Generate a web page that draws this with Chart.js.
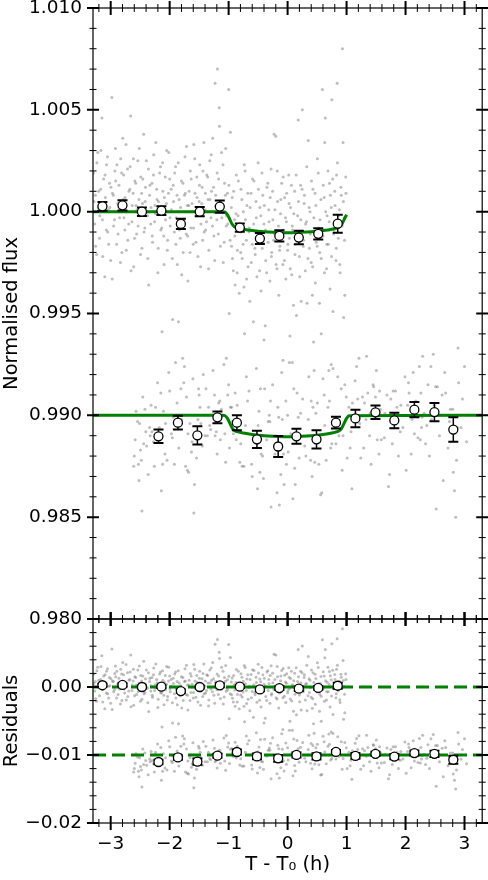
<!DOCTYPE html>
<html>
<head>
<meta charset="utf-8">
<title>Transit light curves</title>
<script src="https://cdn.jsdelivr.net/npm/chart.js@4.4.0/dist/chart.umd.min.js"></script>
<style>
body { margin: 0; background: #fff; }
#wrap { position: relative; width: 488px; height: 880px; }
#wrap canvas { position: absolute; left: 0; top: 0; }
</style>
</head>
<body>
<div id="wrap">
<canvas id="fluxChart" width="488" height="880"></canvas>
<canvas id="residChart" width="488" height="880"></canvas>
</div>
<script>
// axis ranges and ticks
var timeMin = -3.3, timeMax = 3.3;
var timeTicks = [-3, -2, -1, 0, 1, 2, 3];
var fluxTicks = [0.980, 0.985, 0.990, 0.995, 1.000, 1.005, 1.010];
var residTicks = [-0.02, -0.01, 0.00];
var residLevels = [0.00, -0.01];

// unbinned light curves [T - T0 (h), normalised flux]
var upperSeries = [
  [-3.29,1.0019],[-3.27,0.9994],[-3.26,1.0008],[-3.24,0.9979],[-3.22,1.0029],[-3.21,1.0002],[-3.19,0.9987],[-3.17,1.0011],[-3.15,1.0046],[-3.14,0.9996],
  [-3.12,1.0016],[-3.10,0.9968],[-3.09,1.0007],[-3.07,1.0023],[-3.05,0.9990],[-3.04,1.0001],[-3.02,1.0014],[-3.00,0.9976],[-2.98,1.0056],[-2.97,1.0009],
  [-2.95,0.9993],[-2.93,1.0020],[-2.92,1.0031],[-2.90,0.9984],[-2.88,1.0004],[-2.86,1.0013],[-2.85,0.9997],[-2.83,1.0026],[-2.81,0.9980],[-2.79,1.0006],
  [-2.78,1.0018],[-2.76,0.9991],[-2.74,1.0033],[-2.73,1.0000],[-2.71,0.9986],[-2.69,1.0010],[-2.67,1.0022],[-2.66,1.0047],[-2.64,0.9995],[-2.62,1.0009],
  [-2.61,0.9973],[-2.59,1.0015],[-2.57,1.0003],[-2.56,0.9989],[-2.54,1.0025],[-2.52,1.0006],[-2.51,0.9998],[-2.49,1.0017],[-2.47,0.9982],[-2.46,1.0004],
  [-2.44,1.0038],[-2.42,0.9992],[-2.41,1.0012],[-2.39,1.0000],[-2.37,0.9977],[-2.36,1.0021],[-2.34,1.0008],[-2.32,0.9994],[-2.30,1.0014],[-2.29,0.9985],
  [-2.27,1.0028],[-2.25,1.0003],[-2.24,0.9999],[-2.22,1.0011],[-2.20,0.9970],[-2.19,1.0005],[-2.17,1.0019],[-2.15,0.9991],[-2.14,1.0002],[-2.12,1.0024],
  [-2.10,0.9988],[-2.09,1.0007],[-2.07,0.9996],[-2.05,1.0030],[-2.04,0.9981],[-2.02,1.0009],[-2.00,1.0016],[-1.99,0.9993],[-1.97,1.0001],[-1.95,0.9947],
  [-1.94,1.0013],[-1.92,0.9990],[-1.90,1.0022],[-1.89,0.9997],[-1.87,0.9974],[-1.85,0.9946],[-1.84,1.0006],[-1.82,0.9987],[-1.80,1.0015],[-1.79,0.9995],
  [-1.77,0.9980],[-1.75,1.0008],[-1.74,1.0027],[-1.72,0.9989],[-1.70,1.0003],[-1.69,0.9966],[-1.67,1.0010],[-1.65,1.0020],[-1.64,0.9992],[-1.62,1.0004],
  [-1.60,0.9984],[-1.59,1.0033],[-1.57,1.0009],[-1.55,0.9998],[-1.54,1.0017],[-1.52,0.9978],[-1.50,1.0005],[-1.49,1.0023],[-1.47,0.9994],[-1.45,1.0012],
  [-1.44,0.9986],[-1.42,1.0034],[-1.40,1.0001],[-1.39,0.9991],[-1.37,1.0018],[-1.35,1.0006],[-1.34,0.9972],[-1.32,1.0025],[-1.30,0.9997],[-1.29,1.0010],
  [-1.27,1.0036],[-1.25,0.9988],[-1.23,1.0063],[-1.22,1.0008],[-1.20,0.9996],[-1.19,1.0070],[-1.17,1.0016],[-1.16,1.0051],[-1.14,0.9983],[-1.12,1.0029],
  [-1.11,1.0002],[-1.09,0.9975],[-1.07,1.0014],[-1.05,1.0031],[-1.04,0.9993],[-1.02,1.0009],[-1.00,1.0060],[-0.99,0.9950],[-0.97,1.0039],[-0.95,0.9983],
  [-0.94,1.0007],[-0.92,0.9971],[-0.90,0.9996],[-0.89,0.9964],[-0.87,1.0018],[-0.85,0.9981],[-0.84,0.9998],[-0.82,0.9960],[-0.80,0.9990],[-0.79,1.0011],
  [-0.77,0.9977],[-0.75,1.0000],[-0.74,0.9963],[-0.72,1.0020],[-0.70,0.9986],[-0.69,1.0003],[-0.67,0.9973],[-0.65,0.9992],[-0.64,0.9956],[-0.62,1.0009],
  [-0.60,0.9984],[-0.58,0.9946],[-0.57,1.0015],[-0.55,0.9979],[-0.53,0.9997],[-0.52,0.9968],[-0.50,1.0024],[-0.48,0.9988],[-0.47,1.0002],[-0.45,0.9961],
  [-0.43,0.9982],[-0.42,1.0008],[-0.40,0.9994],[-0.38,0.9944],[-0.37,0.9976],[-0.35,1.0012],[-0.33,0.9985],[-0.32,1.0001],[-0.30,0.9966],[-0.28,1.0021],
  [-0.27,0.9980],[-0.25,0.9996],[-0.23,1.0038],[-0.22,0.9989],[-0.20,1.0037],[-0.18,0.9972],[-0.17,1.0005],[-0.15,0.9959],[-0.13,0.9983],[-0.12,0.9999],
  [-0.10,1.0014],[-0.08,0.9974],[-0.07,0.9991],[-0.05,1.0007],[-0.03,0.9967],[-0.02,0.9995],[0.00,0.9981],[0.02,1.0018],[0.03,0.9987],[0.05,1.0002],
  [0.07,0.9969],[0.08,0.9993],[0.10,0.9954],[0.12,1.0010],[0.13,0.9984],[0.15,0.9949],[0.17,0.9998],[0.18,1.0045],[0.20,0.9978],[0.22,1.0013],
  [0.23,0.9956],[0.25,1.0050],[0.27,0.9986],[0.28,1.0004],[0.30,0.9971],[0.32,0.9995],[0.33,0.9955],[0.35,1.0035],[0.37,0.9982],[0.38,1.0000],
  [0.40,0.9975],[0.42,0.9959],[0.43,1.0011],[0.45,0.9990],[0.47,0.9965],[0.48,1.0003],[0.50,0.9983],[0.52,1.0019],[0.54,0.9955],[0.55,0.9996],
  [0.57,0.9977],[0.59,1.0060],[0.60,0.9988],[0.62,1.0007],[0.63,1.0034],[0.64,1.0046],[0.66,0.9972],[0.67,0.9998],[0.69,0.9984],[0.71,1.0014],
  [0.72,0.9962],[0.74,1.0002],[0.75,1.0055],[0.77,0.9951],[0.78,0.9989],[0.80,1.0010],[0.82,0.9976],[0.83,1.0018],[0.84,1.0063],[0.86,0.9987],
  [0.88,1.0001],[0.89,0.9970],[0.91,1.0008],[0.93,1.0080],[0.94,1.0034],[0.95,0.9948],[0.96,0.9997],[0.97,0.9959],[0.99,1.0009],
  // in-between exposures
  [-3.285,1.0005],[-3.255,0.9983],[-3.235,1.0024],[-3.205,1.0010],[-3.185,0.9998],[-3.165,1.0030],[-3.135,0.9978],[-3.115,1.0004],[-3.095,1.0018],[-3.075,0.9991],
  [-3.055,1.0027],[-3.035,0.9984],[-3.015,1.0002],[-2.995,1.0012],[-2.975,0.9967],[-2.955,1.0008],[-2.935,0.9996],[-2.915,1.0015],[-2.895,1.0023],[-2.875,0.9989],
  [-2.855,1.0000],[-2.835,0.9975],[-2.815,1.0019],[-2.795,1.0036],[-2.775,0.9997],[-2.755,1.0007],[-2.735,0.9981],[-2.715,1.0021],[-2.695,0.9994],[-2.675,1.0011],
  [-2.655,0.9971],[-2.635,1.0003],[-2.615,1.0026],[-2.595,0.9987],[-2.575,1.0014],[-2.555,1.0001],[-2.535,0.9993],[-2.515,1.0031],[-2.495,0.9979],[-2.475,1.0009],
  [-2.455,1.0016],[-2.435,0.9990],[-2.415,1.0005],[-2.395,1.0025],[-2.375,0.9998],[-2.355,0.9964],[-2.335,1.0013],[-2.315,1.0002],[-2.295,0.9988],[-2.275,1.0018],
  [-2.255,0.9995],[-2.235,1.0034],[-2.215,1.0006],[-2.195,0.9982],[-2.175,1.0000],[-2.155,1.0022],[-2.135,0.9992],[-2.115,1.0010],[-2.095,0.9974],[-2.075,1.0017],
  [-2.055,1.0004],[-2.035,0.9986],[-2.015,1.0029],[-1.995,0.9997],[-1.975,1.0011],[-1.955,0.9977],[-1.935,1.0005],[-1.915,1.0019],[-1.895,0.9984],[-1.875,1.0008],
  [-1.855,1.0024],[-1.835,0.9991],[-1.815,1.0002],[-1.795,0.9969],[-1.775,1.0014],[-1.755,0.9996],[-1.735,1.0009],[-1.715,1.0032],[-1.695,0.9988],[-1.675,1.0003],
  [-1.655,0.9980],[-1.635,1.0016],[-1.615,1.0000],[-1.595,0.9992],[-1.575,1.0026],[-1.555,0.9985],[-1.535,1.0007],[-1.515,0.9999],[-1.495,1.0013],[-1.475,0.9973],
  [-1.455,1.0004],[-1.435,1.0020],[-1.415,0.9990],[-1.395,1.0009],[-1.375,0.9995],[-1.355,1.0017],[-1.335,0.9981],[-1.315,1.0006],[-1.295,1.0028],[-1.275,0.9993],
  [-1.255,1.0012],[-1.235,0.9976],[-1.215,1.0003],[-1.195,1.0019],[-1.175,0.9989],[-1.155,1.0042],[-1.135,1.0005],[-1.115,0.9997],[-1.095,1.0023],[-1.075,0.9985],
  [-1.055,1.0008],[-1.035,0.9998],
  [-1.015,0.9994],[-0.995,1.0013],[-0.975,0.9986],[-0.955,1.0002],[-0.935,0.9977],[-0.915,1.0010],[-0.895,0.9988],[-0.875,0.9999],[-0.855,0.9970],[-0.835,1.0015],
  [-0.815,0.9992],[-0.795,0.9980],[-0.775,1.0006],[-0.755,0.9984],[-0.735,1.0023],[-0.715,0.9996],[-0.695,0.9967],[-0.675,1.0009],[-0.655,0.9990],[-0.635,1.0002],
  [-0.615,0.9975],[-0.595,1.0016],[-0.575,0.9994],[-0.555,0.9982],[-0.535,1.0005],[-0.515,0.9987],[-0.495,1.0011],[-0.475,0.9971],[-0.455,0.9998],[-0.435,1.0019],
  [-0.415,0.9985],[-0.395,1.0003],[-0.375,0.9991],[-0.355,0.9970],[-0.335,1.0014],[-0.315,0.9995],[-0.295,1.0007],[-0.275,0.9978],[-0.255,1.0010],[-0.235,0.9986],
  [-0.215,1.0001],[-0.195,0.9974],[-0.175,1.0020],[-0.155,0.9993],[-0.135,0.9981],[-0.115,1.0006],[-0.095,0.9988],[-0.075,1.0017],[-0.055,0.9976],[-0.035,0.9997],
  [-0.015,1.0009],[0.005,0.9984],[0.025,1.0004],[0.045,0.9972],[0.065,1.0013],[0.085,0.9991],[0.105,0.9999],[0.125,0.9979],[0.145,1.0018],[0.165,0.9987],
  [0.185,1.0005],[0.205,0.9968],[0.225,0.9996],[0.245,1.0011],[0.265,0.9983],[0.285,1.0008],[0.305,0.9994],[0.325,1.0022],[0.345,0.9977],[0.365,1.0002],
  [0.385,0.9989],[0.405,1.0015],[0.425,0.9973],[0.445,0.9997],[0.465,1.0009],[0.485,0.9985],[0.505,1.0026],[0.525,0.9992],[0.545,0.9980],[0.565,1.0006],
  [0.585,0.9988],[0.605,1.0013],[0.625,0.9970],[0.645,1.0000],[0.665,0.9984],[0.685,1.0020],[0.705,0.9995],[0.725,1.0008],[0.745,0.9978],[0.765,1.0016],
  [0.785,0.9991],[0.805,1.0003],[0.825,0.9982],[0.845,1.0024],[0.865,0.9998],[0.885,0.9974],[0.905,1.0012],[0.925,0.9993],[0.945,1.0005],[0.965,0.9986],[0.985,1.0017]
];
var lowerSeries = [
  [-2.61,0.9875],[-2.60,0.9880],[-2.57,0.9902],[-2.53,0.9876],[-2.52,0.9868],[-2.51,0.9896],[-2.48,0.9878],[-2.47,0.9853],[-2.44,0.9886],[-2.42,0.9903],
  [-2.39,0.9885],[-2.34,0.9894],[-2.33,0.9890],[-2.30,0.9892],[-2.26,0.9875],[-2.24,0.9904],[-2.15,0.9911],[-2.14,0.9863],[-2.13,0.9941],[-2.12,0.9876],
  [-2.08,0.9881],[-2.07,0.9896],[-2.00,0.9912],[-1.97,0.9891],[-1.94,0.9899],[-1.92,0.9876],[-1.90,0.9926],[-1.81,0.9913],[-1.78,0.9928],[-1.76,0.9916],
  [-1.75,0.9924],[-1.73,0.9875],[-1.70,0.9873],[-1.69,0.9891],[-1.68,0.9872],[-1.63,0.9882],[-1.62,0.9887],[-1.59,0.9852],[-1.58,0.9866],[-1.52,0.9898],
  [-1.51,0.9913],[-1.50,0.9910],[-1.47,0.9896],[-1.43,0.9920],[-1.40,0.9890],[-1.36,0.9890],[-1.34,0.9904],[-1.32,0.9895],[-1.24,0.9910],[-1.23,0.9890],
  [-1.21,0.9892],[-1.17,0.9906],[-1.15,0.9907],[-1.14,0.9888],[-1.08,0.9925],[-1.05,0.9877],[-1.04,0.9928],[-1.00,0.9915],[-0.97,0.9904],[-0.95,0.9904],
  [-0.92,0.9891],[-0.89,0.9911],[-0.87,0.9888],[-0.81,0.9877],[-0.77,0.9875],[-0.74,0.9875],[-0.73,0.9940],[-0.70,0.9919],[-0.68,0.9907],[-0.61,0.9876],
  [-0.60,0.9870],[-0.53,0.9923],[-0.51,0.9864],[-0.50,0.9895],[-0.47,0.9872],[-0.46,0.9913],[-0.45,0.9881],[-0.41,0.9869],[-0.40,0.9937],[-0.39,0.9913],
  [-0.33,0.9897],[-0.31,0.9900],[-0.30,0.9897],[-0.29,0.9907],[-0.28,0.9855],[-0.18,0.9862],[-0.15,0.9899],[-0.14,0.9856],[-0.10,0.9921],[-0.09,0.9898],
  [-0.08,0.9927],[-0.07,0.9881],[-0.06,0.9866],[-0.03,0.9907],[-0.02,0.9876],[0.00,0.9900],[0.01,0.9882],[0.03,0.9926],[0.04,0.9939],[0.08,0.9926],
  [0.09,0.9859],[0.12,0.9874],[0.13,0.9866],[0.16,0.9911],[0.18,0.9899],[0.22,0.9901],[0.29,0.9885],[0.31,0.9880],[0.35,0.9898],[0.36,0.9919],
  [0.39,0.9878],[0.40,0.9907],[0.43,0.9904],[0.44,0.9936],[0.45,0.9922],[0.46,0.9877],[0.48,0.9901],[0.53,0.9876],[0.56,0.9861],[0.57,0.9940],
  [0.58,0.9862],[0.60,0.9918],[0.62,0.9910],[0.63,0.9895],[0.70,0.9922],[0.71,0.9907],[0.73,0.9884],[0.74,0.9925],[0.75,0.9886],[0.77,0.9923],
  [0.82,0.9886],[0.85,0.9919],[0.87,0.9890],[0.91,0.9913],[0.94,0.9890],[0.97,0.9915],[1.01,0.9879],[1.04,0.9904],[1.06,0.9884],[1.09,0.9864],
  [1.10,0.9906],[1.17,0.9924],[1.19,0.9908],[1.21,0.9928],[1.24,0.9879],[1.27,0.9909],[1.29,0.9884],[1.33,0.9898],[1.34,0.9929],[1.36,0.9911],
  [1.39,0.9890],[1.40,0.9901],[1.45,0.9915],[1.46,0.9914],[1.49,0.9909],[1.52,0.9888],[1.55,0.9881],[1.56,0.9912],[1.59,0.9888],[1.64,0.9889],
  [1.65,0.9901],[1.71,0.9865],[1.73,0.9871],[1.75,0.9908],[1.79,0.9912],[1.83,0.9912],[1.88,0.9880],[1.91,0.9892],[1.92,0.9905],[1.99,0.9919],
  [2.01,0.9873],[2.05,0.9916],[2.06,0.9911],[2.11,0.9898],[2.13,0.9921],[2.15,0.9891],[2.21,0.9889],[2.25,0.9888],[2.26,0.9911],[2.27,0.9894],
  [2.28,0.9899],[2.29,0.9929],[2.34,0.9886],[2.36,0.9895],[2.38,0.9915],[2.43,0.9924],[2.44,0.9898],[2.47,0.9930],[2.51,0.9914],[2.52,0.9854],
  [2.54,0.9914],[2.62,0.9910],[2.64,0.9868],[2.68,0.9911],[2.72,0.9884],[2.76,0.9903],[2.80,0.9903],[2.81,0.9872],[2.83,0.9863],[2.85,0.9850],
  [2.88,0.9894],[2.89,0.9933],[2.90,0.9916],[2.94,0.9894],[3.00,0.9924],
  // in-between exposures
  [-2.585,0.9888],[-2.545,0.9897],[-2.495,0.9883],[-2.455,0.9909],[-2.405,0.9892],[-2.365,0.9871],[-2.315,0.9905],[-2.275,0.9887],[-2.205,0.9916],[-2.175,0.9894],
  [-2.105,0.9902],[-2.045,0.9878],[-2.015,0.9921],[-1.955,0.9889],[-1.875,0.9906],[-1.845,0.9884],[-1.795,0.9898],[-1.715,0.9909],[-1.655,0.9896],[-1.605,0.9918],
  [-1.545,0.9879],[-1.485,0.9904],[-1.445,0.9885],[-1.385,0.9913],[-1.305,0.9893],[-1.265,0.9922],[-1.195,0.9881],[-1.125,0.9903],[-1.065,0.9891],[-1.015,0.9910],
  [-0.985,0.9884],[-0.935,0.9897],[-0.855,0.9905],[-0.795,0.9886],[-0.715,0.9895],[-0.655,0.9912],[-0.565,0.9889],[-0.485,0.9902],[-0.425,0.9880],[-0.355,0.9888],
  [-0.255,0.9915],[-0.215,0.9881],[-0.165,0.9904],[-0.115,0.9871],[0.055,0.9891],[0.105,0.9913],[0.195,0.9879],[0.255,0.9908],[0.335,0.9890],[0.415,0.9870],
  [0.505,0.9906],[0.545,0.9887],[0.655,0.9878],[0.685,0.9904],[0.795,0.9894],[0.925,0.9873],[0.995,0.9909],[1.075,0.9892],[1.145,0.9917],[1.225,0.9896],
  [1.305,0.9906],[1.415,0.9876],[1.505,0.9922],[1.575,0.9903],[1.685,0.9910],[1.775,0.9886],[1.855,0.9904],[1.955,0.9894],[2.035,0.9905],[2.095,0.9881],
  [2.175,0.9907],[2.235,0.9924],[2.315,0.9901],[2.405,0.9880],[2.485,0.9905],[2.575,0.9890],[2.665,0.9921],[2.745,0.9897],[2.865,0.9878],[2.965,0.9908],[3.035,0.9887]
];

// binned points
var binTimeA = [-3.14, -2.80, -2.47, -2.14, -1.81, -1.49, -1.15, -0.81, -0.47, -0.14, 0.19, 0.52, 0.85];
var binFluxA = [1.00026, 1.00031, 1.00000, 1.00005, 0.99940, 1.00000, 1.00025, 0.99922, 0.99868, 0.99881, 0.99873, 0.99891, 0.99941];
var binErrA  = [0.00022, 0.00025, 0.00021, 0.00021, 0.00025, 0.00023, 0.00030, 0.00020, 0.00027, 0.00028, 0.00033, 0.00028, 0.00044];
var binTimeB = [-2.19, -1.86, -1.53, -1.19, -0.86, -0.52, -0.16, 0.15, 0.49, 0.82, 1.15, 1.49, 1.81, 2.15, 2.49, 2.81];
var binFluxB = [0.98897, 0.98964, 0.98902, 0.98990, 0.98964, 0.98882, 0.98847, 0.98897, 0.98882, 0.98964, 0.98985, 0.99015, 0.98975, 0.99028, 0.99016, 0.98930];
var binErrB  = [0.00033, 0.00034, 0.00045, 0.00029, 0.00037, 0.00042, 0.00051, 0.00037, 0.00045, 0.00029, 0.00043, 0.00033, 0.00038, 0.00038, 0.00045, 0.00060];

// transit models
var modelTimeA = [-3.3, -1.10, -1.06, -1.02, -0.98, -0.94, -0.90, -0.86, -0.75, -0.60, -0.40, -0.20, 0.00, 0.20, 0.40, 0.60, 0.75, 0.84, 0.88, 0.92, 0.96, 1.00];
var modelFluxA = [1.0, 1.0, 0.99998, 0.99985, 0.99962, 0.99938, 0.99926, 0.99921, 0.99914, 0.99907, 0.99901, 0.99898, 0.99896, 0.99898, 0.99901, 0.99907, 0.99914, 0.99921, 0.99926, 0.99938, 0.99962, 0.99985];
var modelTimeB = [-3.3, -1.10, -1.06, -1.02, -0.98, -0.94, -0.90, -0.86, -0.75, -0.60, -0.40, -0.20, 0.00, 0.20, 0.40, 0.60, 0.75, 0.84, 0.88, 0.92, 0.96, 1.00, 1.04, 3.3];
var modelFluxB = [0.990, 0.990, 0.98998, 0.98985, 0.98962, 0.98938, 0.98925, 0.98920, 0.98913, 0.98906, 0.98900, 0.98897, 0.98895, 0.98897, 0.98900, 0.98906, 0.98913, 0.98920, 0.98925, 0.98938, 0.98962, 0.98985, 0.98998, 0.990];
var residOffsetA = 0.00, residOffsetB = -0.01;

Chart.defaults.font.family = "'DejaVu Sans', sans-serif";
Chart.defaults.color = '#000';

var tickFont = { size: 18.5 };
var labelFont = { size: 19.5 };
var green = '#008000';
var grayDot = 'rgba(110,110,110,0.45)';

function seriesPoints(series) {
    return series.map(function(p) { return { x: p[0], y: p[1] }; });
}

function pairPoints(ts, vs) {
    return ts.map(function(t, i) { return { x: t, y: vs[i] }; });
}

// model value at time t
function modelAt(t, mt, mf) {
    if (t <= mt[0]) return mf[0];
    for (var i = 1; i < mt.length; i++) {
        if (t <= mt[i]) {
            var f = (t - mt[i - 1]) / (mt[i] - mt[i - 1]);
            return mf[i - 1] + f * (mf[i] - mf[i - 1]);
        }
    }
    return mf[mf.length - 1];
}

function residPoints(ts, vs, mt, mf, offset) {
    return ts.map(function(t, i) { return { x: t, y: vs[i] - modelAt(t, mt, mf) + offset }; });
}

function setTicks(list) {
    return function(s) { s.ticks = list.map(function(v) { return { value: v }; }); };
}

function fixYAxis(s) { s.width = 93; s.paddingTop = 0; s.paddingBottom = 0; }
function fixXAxis(s) { s.height = 57; s.paddingLeft = 0; s.paddingRight = 0; }
function minus(txt) { return txt.replace('-', '\u2212'); }

// black frame with in/out ticks on all four sides
var frameTicks = {
    id: 'frameTicks',
    afterDraw: function(chart, args, opts) {
        var ctx = chart.ctx, a = chart.chartArea;
        var xs = chart.scales.x, ys = chart.scales.y;
        function minors(min, max, step, majors) {
            var out = [];
            for (var k = Math.ceil(min / step - 1e-6); k * step <= max + 1e-9; k++) {
                var v = k * step;
                if (!majors.some(function(m) { return Math.abs(m - v) < step / 10; })) out.push(v);
            }
            return out;
        }
        function xMarks(vals, len, lw) {
            ctx.lineWidth = lw;
            vals.forEach(function(v) {
                var px = xs.getPixelForValue(v);
                ctx.beginPath();
                ctx.moveTo(px, a.top - len); ctx.lineTo(px, a.top + len);
                ctx.moveTo(px, a.bottom - len); ctx.lineTo(px, a.bottom + len);
                ctx.stroke();
            });
        }
        function yMarks(vals, len, lw) {
            ctx.lineWidth = lw;
            vals.forEach(function(v) {
                var py = ys.getPixelForValue(v);
                ctx.beginPath();
                ctx.moveTo(a.left - len, py); ctx.lineTo(a.left + len, py);
                ctx.moveTo(a.right - len, py); ctx.lineTo(a.right + len, py);
                ctx.stroke();
            });
        }
        ctx.save();
        ctx.strokeStyle = '#000';
        ctx.lineWidth = 1.2;
        ctx.strokeRect(a.left, a.top, a.right - a.left, a.bottom - a.top);
        xMarks(opts.xMajor, 7, 2);
        xMarks(minors(xs.min, xs.max, opts.xMinorStep, opts.xMajor), 4, 1);
        yMarks(opts.yMajor, 6, 2);
        yMarks(minors(ys.min, ys.max, opts.yMinorStep, opts.yMajor), 3.5, 1);
        ctx.restore();
    }
};

// error bars under the binned markers
var errorBars = {
    id: 'errorBars',
    beforeDatasetDraw: function(chart, args) {
        var ds = chart.data.datasets[args.index];
        if (!ds.errors) return;
        var ctx = chart.ctx, ys = chart.scales.y;
        ctx.save();
        ctx.strokeStyle = '#000';
        args.meta.data.forEach(function(pt, i) {
            var y0 = ys.getPixelForValue(ds.data[i].y - ds.errors[i]);
            var y1 = ys.getPixelForValue(ds.data[i].y + ds.errors[i]);
            ctx.lineWidth = 1.5;
            ctx.beginPath();
            ctx.moveTo(pt.x, y0); ctx.lineTo(pt.x, y1);
            ctx.stroke();
            ctx.lineWidth = 2;
            ctx.beginPath();
            ctx.moveTo(pt.x - 5, y0); ctx.lineTo(pt.x + 5, y0);
            ctx.moveTo(pt.x - 5, y1); ctx.lineTo(pt.x + 5, y1);
            ctx.stroke();
        });
        ctx.restore();
    }
};

function grayData(label, pts) {
    return { label: label, data: pts, pointRadius: 1.5, pointBackgroundColor: grayDot, pointBorderWidth: 0, order: 3 };
}

function binData(label, pts, errs) {
    return { label: label, data: pts, errors: errs, pointRadius: 4.5, pointBackgroundColor: '#fff',
             pointBorderColor: '#000', pointBorderWidth: 1.3, order: 1 };
}

function modelData(label, pts) {
    return { label: label, data: pts, showLine: true, pointRadius: 0, borderColor: green, borderWidth: 3,
             cubicInterpolationMode: 'monotone', fill: false, order: 2 };
}

var baseOptions = {
    responsive: false,
    animation: false,
    devicePixelRatio: 1,
    events: []
};

new Chart(document.getElementById('fluxChart'), {
    type: 'scatter',
    data: {
        datasets: [
            grayData('Transit 1', seriesPoints(upperSeries)),
            grayData('Transit 2', seriesPoints(lowerSeries)),
            modelData('Model 1', pairPoints(modelTimeA, modelFluxA)),
            modelData('Model 2', pairPoints(modelTimeB, modelFluxB)),
            binData('Binned 1', pairPoints(binTimeA, binFluxA), binErrA),
            binData('Binned 2', pairPoints(binTimeB, binFluxB), binErrB)
        ]
    },
    options: Object.assign({}, baseOptions, {
        layout: { padding: { left: 0, right: 4, top: 8, bottom: 261 } },
        plugins: {
            legend: { display: false },
            tooltip: { enabled: false },
            frameTicks: { xMajor: timeTicks, xMinorStep: 0.2, yMajor: fluxTicks, yMinorStep: 0.001 }
        },
        scales: {
            x: { type: 'linear', min: timeMin, max: timeMax, display: false },
            y: {
                min: 0.980, max: 1.010,
                afterBuildTicks: setTicks(fluxTicks),
                afterFit: fixYAxis,
                grid: { display: false, drawTicks: false },
                border: { display: false },
                ticks: { padding: 11, font: tickFont, color: '#000',
                         callback: function(v) { return v.toFixed(3); } },
                title: { display: true, text: 'Normalised flux', font: labelFont, color: '#000', padding: { top: 0, bottom: 0 } }
            }
        }
    }),
    plugins: [errorBars, frameTicks]
});

new Chart(document.getElementById('residChart'), {
    type: 'scatter',
    data: {
        datasets: [
            grayData('Residuals 1', residPoints(upperSeries.map(function(p) { return p[0]; }), upperSeries.map(function(p) { return p[1]; }), modelTimeA, modelFluxA, residOffsetA)),
            grayData('Residuals 2', residPoints(lowerSeries.map(function(p) { return p[0]; }), lowerSeries.map(function(p) { return p[1]; }), modelTimeB, modelFluxB, residOffsetB)),
            Object.assign(modelData('Zero 1', [{ x: timeMin, y: residLevels[0] }, { x: timeMax, y: residLevels[0] }]), { borderDash: [13, 6] }),
            Object.assign(modelData('Zero 2', [{ x: timeMin, y: residLevels[1] }, { x: timeMax, y: residLevels[1] }]), { borderDash: [13, 6] }),
            binData('Binned residuals 1', residPoints(binTimeA, binFluxA, modelTimeA, modelFluxA, residOffsetA), binErrA),
            binData('Binned residuals 2', residPoints(binTimeB, binFluxB, modelTimeB, modelFluxB, residOffsetB), binErrB)
        ]
    },
    options: Object.assign({}, baseOptions, {
        layout: { padding: { left: 0, right: 4, top: 619, bottom: 0 } },
        plugins: {
            legend: { display: false },
            tooltip: { enabled: false },
            frameTicks: { xMajor: timeTicks, xMinorStep: 0.2, yMajor: residTicks.concat([0.01]), yMinorStep: 0.002 }
        },
        scales: {
            x: {
                type: 'linear', min: timeMin, max: timeMax,
                afterBuildTicks: setTicks(timeTicks),
                afterFit: fixXAxis,
                grid: { display: false, drawTicks: false },
                border: { display: false },
                ticks: { padding: 10, font: tickFont, color: '#000', maxRotation: 0,
                         callback: function(v) { return minus(String(v)); } },
                title: { display: true, text: 'T - T\u2080 (h)', font: labelFont, color: '#000', padding: { top: 0, bottom: 3 } }
            },
            y: {
                min: -0.02, max: 0.01,
                afterBuildTicks: setTicks(residTicks),
                afterFit: fixYAxis,
                grid: { display: false, drawTicks: false },
                border: { display: false },
                ticks: { padding: 11, font: tickFont, color: '#000',
                         callback: function(v) { return Math.abs(v) < 1e-9 ? '0.00' : minus(v.toFixed(2)); } },
                title: { display: true, text: 'Residuals', font: labelFont, color: '#000', padding: { top: 0, bottom: 0 } }
            }
        }
    }),
    plugins: [errorBars, frameTicks]
});
</script>
</body>
</html>
